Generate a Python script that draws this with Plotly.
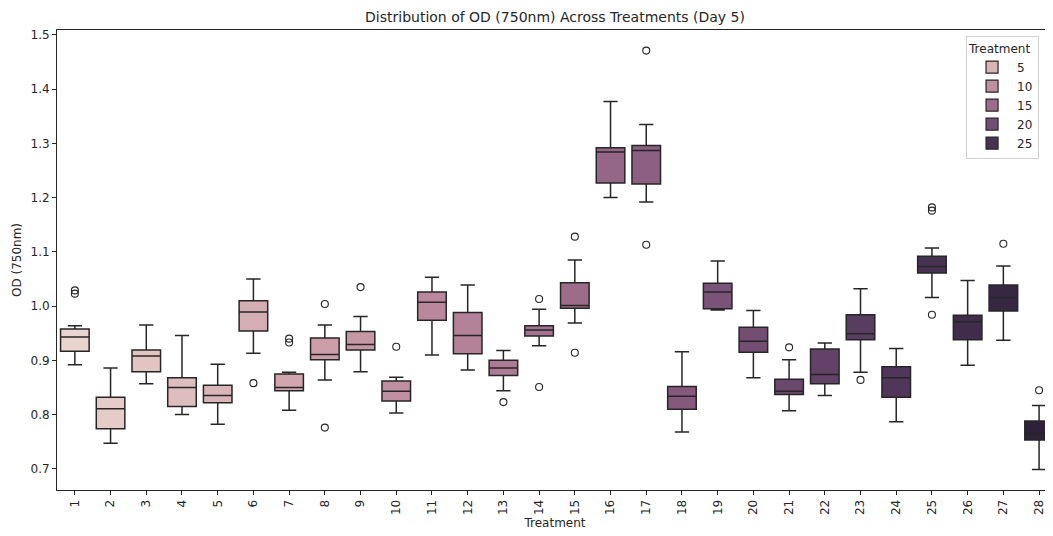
import colorsys
import math
import plotly.graph_objects as go

treatments = list(range(1, 29))
lower = [0.892, 0.747, 0.857, 0.800, 0.782, 0.913, 0.808, 0.864, 0.879, 0.803,
         0.910, 0.882, 0.844, 0.927, 0.969, 1.200, 1.192, 0.768, 0.993, 0.868,
         0.807, 0.835, 0.878, 0.787, 1.016, 0.891, 0.937, 0.699]
q1 = [0.917, 0.774, 0.879, 0.815, 0.822, 0.954, 0.844, 0.901, 0.919, 0.825,
      0.974, 0.912, 0.872, 0.945, 0.996, 1.227, 1.225, 0.810, 0.995, 0.915,
      0.837, 0.857, 0.938, 0.832, 1.061, 0.938, 0.991, 0.753]
median = [0.943, 0.811, 0.908, 0.850, 0.835, 0.989, 0.850, 0.911, 0.929, 0.843,
          1.007, 0.946, 0.886, 0.956, 1.001, 1.284, 1.287, 0.834, 1.026, 0.935,
          0.843, 0.874, 0.949, 0.868, 1.073, 0.971, 1.016, 0.765]
q3 = [0.958, 0.832, 0.919, 0.868, 0.854, 1.010, 0.875, 0.941, 0.953, 0.862,
      1.026, 0.988, 0.900, 0.964, 1.043, 1.292, 1.296, 0.852, 1.042, 0.961,
      0.865, 0.921, 0.984, 0.888, 1.092, 0.983, 1.039, 0.788]
upper = [0.964, 0.886, 0.965, 0.946, 0.893, 1.050, 0.878, 0.965, 0.981, 0.869,
         1.053, 1.039, 0.918, 0.994, 1.085, 1.377, 1.335, 0.916, 1.083, 0.992,
         0.901, 0.932, 1.032, 0.922, 1.107, 1.047, 1.074, 0.817]
outliers = [[1.029, 1.023], [], [], [], [], [0.858], [0.940, 0.933], [1.004, 0.776],
            [1.035], [0.925], [], [], [0.823], [1.013, 0.851], [1.128, 0.914],
            [], [1.471, 1.113], [], [], [], [0.924], [], [0.864], [],
            [1.182, 1.176, 0.984], [], [1.115], [0.845]]
legend_values = [5, 10, 15, 20, 25]


def cubehelix(x, start=0.0, rot=0.4, gamma=1.0, hue=0.8):
    xg = x ** gamma
    a = hue * xg * (1 - xg) / 2
    phi = 2 * math.pi * (start / 3 + rot * x)
    c, s = math.cos(phi), math.sin(phi)
    r = xg + a * (-0.14861 * c + 1.78277 * s)
    g = xg + a * (-0.29227 * c - 0.90649 * s)
    b = xg + a * (1.97294 * c)
    return [min(1, max(0, v)) for v in (r, g, b)]


def hue_color(v, vmin=1, vmax=28, sat=0.75):
    t = (v - vmin) / (vmax - vmin)
    x = 0.85 + t * (0.15 - 0.85)
    r, g, b = cubehelix(x)
    h, l, s = colorsys.rgb_to_hls(r, g, b)
    r, g, b = colorsys.hls_to_rgb(h, l, s * sat)
    return "rgb(%d,%d,%d)" % (round(r * 255), round(g * 255), round(b * 255))


line_col = "#262626"
cats = [str(t) for t in treatments]
fig = go.Figure()
for i, t in enumerate(treatments):
    fig.add_trace(go.Box(
        x=[cats[i]], q1=[q1[i]], median=[median[i]], q3=[q3[i]],
        lowerfence=[lower[i]], upperfence=[upper[i]],
        fillcolor=hue_color(t), line=dict(color=line_col, width=1.5),
        width=0.8, whiskerwidth=0.5, boxpoints=False, showlegend=False,
        hoverinfo="skip",
    ))
    if outliers[i]:
        fig.add_trace(go.Scatter(
            x=[cats[i]] * len(outliers[i]), y=outliers[i], mode="markers",
            marker=dict(symbol="circle-open", size=7, color=line_col,
                        line=dict(width=1.1, color=line_col)),
            showlegend=False, hoverinfo="skip",
        ))

for v in legend_values:
    fig.add_trace(go.Bar(
        x=[None], y=[None], name=str(v), marker=dict(color=hue_color(v),
        line=dict(color=line_col, width=1.2)), showlegend=True,
    ))

# The page adds an 8px body margin, so the figure is sized/offset to compensate.
fig.update_layout(
    width=1045, height=528,
    margin=dict(l=49, r=0, t=22, b=46),
    paper_bgcolor="white", plot_bgcolor="white",
    font=dict(family="DejaVu Sans", size=12, color="#262626"),
    title=dict(text="Distribution of OD (750nm) Across Treatments (Day 5)",
               x=0.5, xref="paper", xanchor="center", y=0.982, yanchor="middle",
               font=dict(size=14, color="#262626")),
    boxmode="overlay",
    legend=dict(title=dict(text="Treatment", font=dict(size=12), side="top"),
                x=0.986, xanchor="right", y=0.987, yanchor="top",
                bordercolor="#d0d0d0", borderwidth=1, bgcolor="white",
                font=dict(size=12), tracegroupgap=0, itemwidth=40),
)
fig.update_xaxes(
    type="category", categoryorder="array", categoryarray=cats,
    range=[-0.5, 27.39], tickangle=-90, ticks="outside", ticklen=4,
    tickcolor="#262626", showline=True, linecolor="#262626", linewidth=1,
    mirror=True, showgrid=False, zeroline=False,
    title=dict(text="Treatment", font=dict(size=12), standoff=4),
    tickfont=dict(size=12),
)
fig.update_yaxes(
    range=[0.661, 1.509], tickvals=[0.7, 0.8, 0.9, 1.0, 1.1, 1.2, 1.3, 1.4, 1.5],
    tickformat=".1f", ticks="outside", ticklen=4, tickcolor="#262626",
    showline=True, linecolor="#262626", linewidth=1, mirror=True,
    showgrid=False, zeroline=False,
    title=dict(text="OD (750nm)", font=dict(size=12), standoff=6),
    tickfont=dict(size=12),
)
fig.write_html("out.html")
